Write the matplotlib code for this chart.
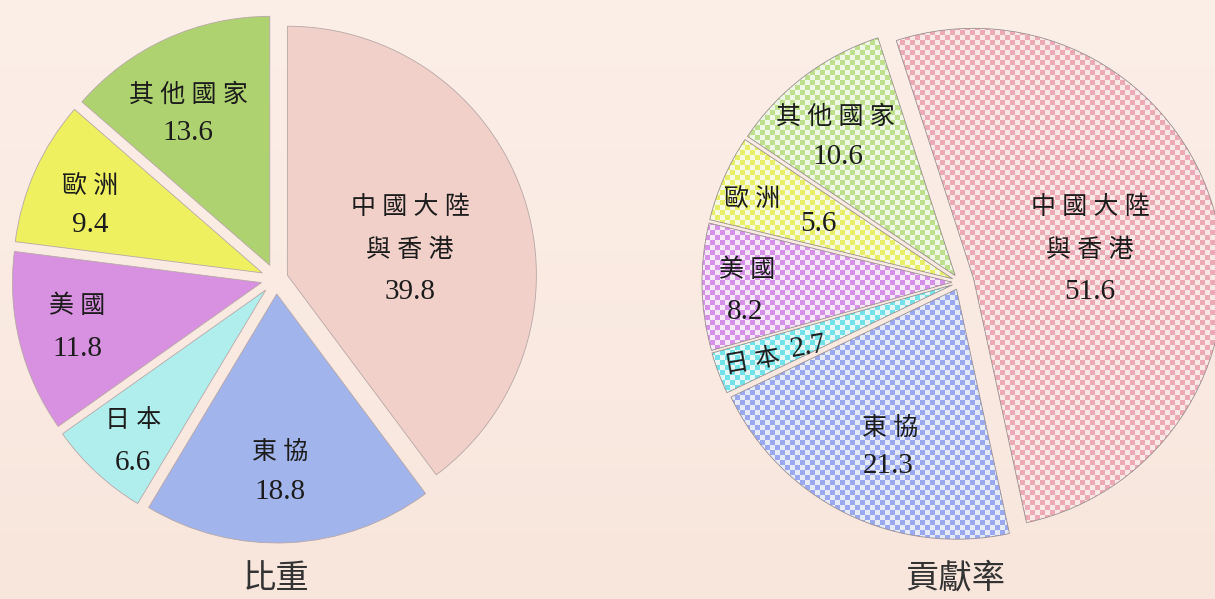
import numpy as np
import matplotlib
matplotlib.use('Agg')
import matplotlib.pyplot as plt
from matplotlib.colors import to_rgb

# ---------------- data ----------------
categories = ['中國大陸與香港', '東協', '日本', '美國', '歐洲', '其他國家']
share = [39.8, 18.8, 6.6, 11.8, 9.4, 13.6]            # 比重
contribution = [51.6, 21.3, 2.7, 8.2, 5.6, 10.6]      # 貢獻率
titles = ['比重', '貢獻率']

# ---------------- styles ----------------
solid_colors = ['#f0d0c8', '#a2b4ec', '#b0eeee', '#d890e0', '#eef060', '#afd270']
check_colors = ['#eeaab4', '#9aa8f2', '#72e2ea', '#d690ea', '#e8ee66', '#bee08c']
check_light = ['#fae8e6', '#e4eafa', '#e4f8f8', '#f6e8fa', '#f8fae0', '#eef8e4']

W, H = 1215, 599
fig = plt.figure(figsize=(W / 100, H / 100), dpi=100)
ax = fig.add_axes([0, 0, 1, 1])

# background (soft peach gradient)
yy, xx = np.mgrid[0:H, 0:W]
top = np.array(to_rgb('#fcefe8'))
bot = np.array(to_rgb('#f8e6dc'))
t = (yy / H)[..., None]
bg = top * (1 - t) + bot * t
ax.imshow(bg, extent=(0, W, 0, H), origin='upper', zorder=0, interpolation='bilinear')

def iy(y):
    return H - y

fam = ['Liberation Serif', 'Noto Sans CJK TC']

def spaced(s):
    return ' '.join(list(s))

# ---------------- left pie (比重) ----------------
wl, _ = ax.pie(share, colors=solid_colors, startangle=90, counterclock=False,
               center=(276, iy(279)), radius=249,
               explode=[12, 15, 15, 15, 15, 15],
               wedgeprops=dict(edgecolor='#b8a8a8', linewidth=0.6), frame=True)
for w in wl:
    w.set_zorder(2)

left_pos = [((410, 207), (410, 250), (410, 292)),
            ((280, 452), None, (280, 492)),
            ((133, 421), None, (133, 463)),
            ((77, 306), None, (77, 349)),
            ((90, 187), None, (90, 225)),
            ((188, 95), None, (188, 133))]

def put_labels(pos, values, rots=None):
    for i, (cat, val) in enumerate(zip(categories, values)):
        p1, p2, p3 = pos[i]
        rot = 0 if rots is None else rots[i]
        if p2 is not None:
            ax.text(p1[0], iy(p1[1]), spaced(cat[:4]), ha='center', va='center',
                    fontsize=18, family=fam, color='#1c1c1c', zorder=5)
            ax.text(p2[0], iy(p2[1]), spaced(cat[4:]), ha='center', va='center',
                    fontsize=18, family=fam, color='#1c1c1c', zorder=5)
        else:
            ax.text(p1[0], iy(p1[1]), spaced(cat), ha='center', va='center',
                    fontsize=18, family=fam, color='#1c1c1c', zorder=5, rotation=rot)
        ax.text(p3[0], iy(p3[1]), f'{val:.1f}', ha='center', va='center',
                fontsize=21, family=fam, color='#1c1c1c', zorder=5, rotation=rot)

put_labels(left_pos, share)

# ---------------- right pie (貢獻率) ----------------
wr, _ = ax.pie(contribution, colors=check_colors, startangle=108, counterclock=False,
               center=(960, iy(282)), radius=250,
               explode=[14, 8, 8, 8, 8, 8],
               wedgeprops=dict(edgecolor='#9a9090', linewidth=0.6), frame=True)

cell = 5
checker = (((xx // cell) + (yy // cell)) % 2).astype(float)[..., None]
for w, c, cl in zip(wr, check_colors, check_light):
    w.set_facecolor('none')
    w.set_zorder(3)
    img = np.array(to_rgb(c)) * (1 - checker) + np.array(to_rgb(cl)) * checker
    im = ax.imshow(img, extent=(0, W, 0, H), origin='upper', zorder=2,
                   interpolation='bilinear')
    im.set_clip_path(w)

right_pos = [((1090, 207), (1090, 250), (1090, 292)),
             ((890, 428), None, (888, 466)),
             ((752, 362), None, (808, 347)),
             ((747, 270), None, (745, 312)),
             ((752, 200), None, (818, 224)),
             ((835, 117), None, (838, 157))]
put_labels(right_pos, contribution, rots=[0, 0, 10, 0, 0, 0])

# titles
ax.text(276, iy(578), titles[0], ha='center', va='center', fontsize=24,
        family=['Noto Sans CJK TC'], fontweight='light', color='#333333', zorder=5)
ax.text(955, iy(578), titles[1], ha='center', va='center', fontsize=24,
        family=['Noto Sans CJK TC'], fontweight='light', color='#333333', zorder=5)

ax.set_xlim(0, W)
ax.set_ylim(0, H)
ax.set_aspect('auto')
ax.axis('off')
fig.savefig('out.png', dpi=100)
